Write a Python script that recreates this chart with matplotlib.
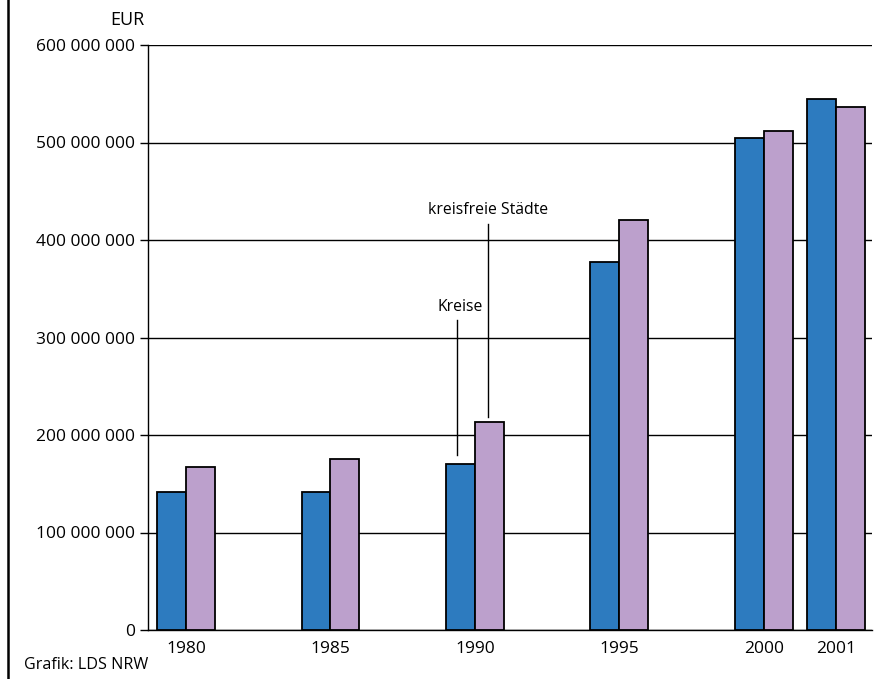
import matplotlib
matplotlib.use("Agg")
import matplotlib.pyplot as plt
from matplotlib.lines import Line2D

years = ["1980", "1985", "1990", "1995", "2000", "2001"]
kreise = [141.5e6, 142e6, 170.5e6, 377e6, 505e6, 545e6]
kreisfreie = [167e6, 175e6, 213e6, 421e6, 512e6, 536e6]
yticks = [0, 100e6, 200e6, 300e6, 400e6, 500e6, 600e6]
ytick_labels = ["0", "100 000 000", "200 000 000", "300 000 000",
                "400 000 000", "500 000 000", "600 000 000"]

positions = [0, 1, 2, 3, 4, 4.5]
bw = 0.2

plt.rcParams['font.family'] = ['Open Sans', 'DejaVu Sans']

fig = plt.figure(figsize=(8.82, 6.79), dpi=100)
ax = fig.add_axes([148/882, 1-630/679, (872-148)/882, (630-45)/679])

blue = "#2d7bbf"
purple = "#bca0cc"
ax.bar([p - bw/2 for p in positions], kreise, width=bw, color=blue,
       edgecolor="black", linewidth=1.3, zorder=3)
ax.bar([p + bw/2 for p in positions], kreisfreie, width=bw, color=purple,
       edgecolor="black", linewidth=1.3, zorder=3)

ax.set_xlim(-0.263, 4.75)
ax.set_ylim(0, 600e6)
ax.set_yticks(yticks)
ax.set_yticklabels(ytick_labels, fontsize=12.5)
ax.set_xticks(positions)
ax.set_xticklabels(years, fontsize=12.5)
ax.tick_params(axis='x', length=0, pad=8)
ax.tick_params(axis='y', length=6, width=1, color='black', pad=3)
ax.yaxis.grid(True, color='black', linewidth=1, zorder=0)
ax.set_axisbelow(True)
for s in ['top', 'right']:
    ax.spines[s].set_visible(False)
ax.spines['left'].set_linewidth(1)
ax.spines['bottom'].set_linewidth(1)

# annotations
ax.plot([2.09, 2.09], [218e6, 416e6], color='black', lw=1, zorder=4)
ax.text(2.09, 431e6, "kreisfreie Städte", ha='center', va='center', fontsize=11.3)
ax.plot([1.875, 1.875], [180e6, 318e6], color='black', lw=1, zorder=4)
ax.text(1.90, 331e6, "Kreise", ha='center', va='center', fontsize=11.3)

fig.text(127/882, 1-20/679, "EUR", ha='center', va='center', fontsize=13)
fig.text(24/882, 1-665/679, "Grafik: LDS NRW", ha='left', va='center', fontsize=11.6)
fig.add_artist(Line2D([7.5/882, 7.5/882], [0, 1], transform=fig.transFigure,
                      color='black', lw=1.8))

fig.savefig("out.png", dpi=100)
